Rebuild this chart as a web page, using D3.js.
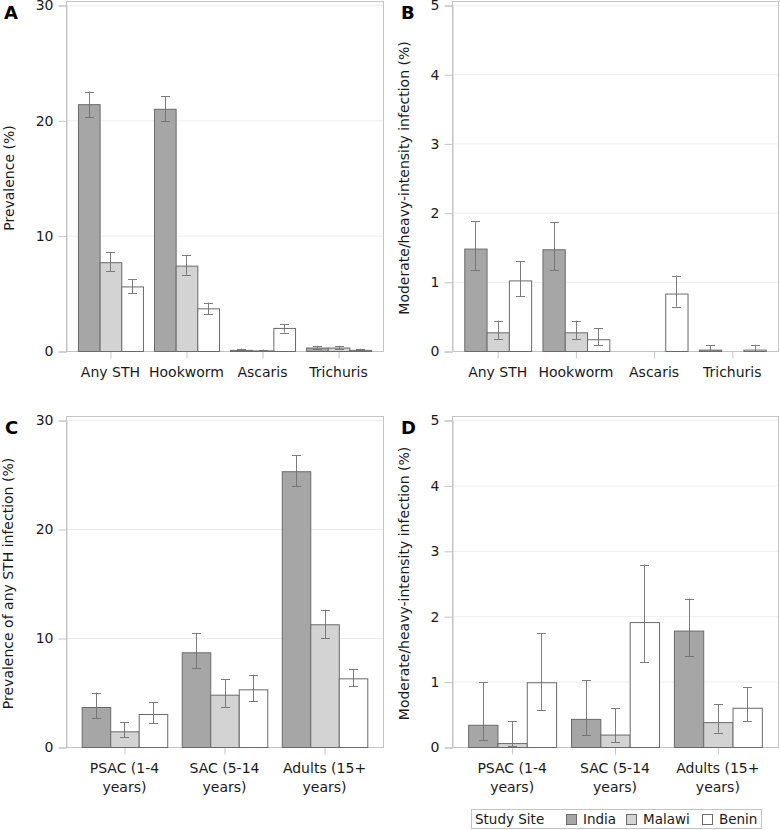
<!DOCTYPE html>
<html><head><meta charset="utf-8">
<script src="https://cdn.jsdelivr.net/npm/d3@7"></script>
<style>
body{margin:0;background:#fff;}
svg{display:block;font-family:"DejaVu Sans",sans-serif;}
</style></head>
<body>
<svg id="chart" width="780" height="830"></svg>
<script>
// ---- data ----
const sites = ["India", "Malawi", "Benin"];
const speciesCats = ["Any STH", "Hookworm", "Ascaris", "Trichuris"];
const ageCats = ["PSAC (1-4 years)", "SAC (5-14 years)", "Adults (15+ years)"];
const ageLabelLines = [["PSAC (1-4", "years)"], ["SAC (5-14", "years)"], ["Adults (15+", "years)"]];
const prevTicks = [0, 10, 20, 30];
const intTicks = [0, 1, 2, 3, 4, 5];

// [estimate, lower CI, upper CI]
const aIndia  = [[21.4, 20.3, 22.5], [21.0, 19.9, 22.1], [0.1, 0.05, 0.2], [0.3, 0.2, 0.45]];
const aMalawi = [[7.7, 6.9, 8.6], [7.4, 6.6, 8.3], [0.05, 0.0, 0.12], [0.3, 0.15, 0.45]];
const aBenin  = [[5.6, 5.0, 6.2], [3.7, 3.2, 4.2], [2.0, 1.6, 2.35], [0.1, 0.05, 0.2]];

const bIndia  = [[1.48, 1.17, 1.88], [1.47, 1.17, 1.86], [0, 0, 0], [0.02, 0, 0.08]];
const bMalawi = [[0.27, 0.17, 0.44], [0.27, 0.17, 0.44], [0, 0, 0], [0, 0, 0]];
const bBenin  = [[1.02, 0.79, 1.30], [0.17, 0.08, 0.33], [0.83, 0.64, 1.09], [0.02, 0, 0.09]];

const cIndia  = [[3.67, 2.63, 5.0], [8.69, 7.22, 10.43], [25.3, 23.9, 26.76]];
const cMalawi = [[1.44, 0.89, 2.27], [4.8, 3.64, 6.21], [11.26, 10.0, 12.6]];
const cBenin  = [[3.03, 2.2, 4.13], [5.29, 4.19, 6.64], [6.3, 5.57, 7.16]];

const dIndia  = [[0.34, 0.11, 0.99], [0.43, 0.18, 1.02], [1.78, 1.39, 2.27]];
const dMalawi = [[0.06, 0.01, 0.39], [0.19, 0.07, 0.59], [0.38, 0.22, 0.65]];
const dBenin  = [[0.99, 0.57, 1.74], [1.91, 1.30, 2.79], [0.60, 0.39, 0.91]];

// ---- styling ----
const siteFill = {India: "#a6a6a6", Malawi: "#d3d3d3", Benin: "#ffffff"};
const frameColor = "#c4c4c4";
const gridColor = "#ededed";
const barStroke = "#6a6a6a";
const errColor = "#707070";
const textColor = "#1a1a1a";
const FONT = '"DejaVu Sans",sans-serif';

const svg = d3.select("#chart");

function panel(opts) {
  const {left, right, top, bottom, cats, labelLines, ticks, maxY, series, letter, title, titleX, letterX} = opts;
  const g = svg.append("g");
  const y = d3.scaleLinear().domain([0, maxY]).range([bottom, top]);
  const x0 = d3.scaleBand().domain(cats).range([left, right]).paddingInner(0.145).paddingOuter(0.157);
  const x1 = d3.scaleBand().domain(sites).range([0, x0.bandwidth()]);

  // gridlines
  g.selectAll("line.grid").data(ticks.filter(t => t > 0)).join("line")
    .attr("x1", left).attr("x2", right)
    .attr("y1", d => y(d) + 0.5).attr("y2", d => y(d) + 0.5)
    .attr("stroke", gridColor).attr("stroke-width", 1);

  // frame
  g.append("rect").attr("x", left + 0.5).attr("y", y(maxY) - 4 + 0.5)
    .attr("width", right - left).attr("height", bottom - (y(maxY) - 4))
    .attr("fill", "none").attr("stroke", frameColor);

  // y axis
  const yAxis = d3.axisLeft(y).tickValues(ticks).tickSize(8).tickPadding(5).tickFormat(d3.format("d"));
  const ya = g.append("g").attr("transform", `translate(${left + 0.5},0.5)`).call(yAxis);
  ya.select(".domain").attr("stroke", frameColor);
  ya.selectAll(".tick line").attr("stroke", frameColor);
  ya.selectAll(".tick text").attr("fill", textColor).style("font-size", "14px")
    .style("font-family", FONT);

  // x axis
  const xAxis = d3.axisBottom(x0).tickSize(7).tickPadding(6).tickFormat("");
  const xa = g.append("g").attr("transform", `translate(0.5,${bottom + 0.5})`).call(xAxis);
  xa.select(".domain").attr("stroke", frameColor).attr("d", `M${left},0H${right}`);
  xa.selectAll(".tick line").attr("stroke", frameColor);
  cats.forEach((c, i) => {
    const lines = labelLines[i];
    const t = g.append("text").attr("x", x0(c) + x0.bandwidth() / 2)
      .attr("text-anchor", "middle").attr("fill", textColor).style("font-size", "14px");
    lines.forEach((ln, j) => {
      t.append("tspan").attr("x", x0(c) + x0.bandwidth() / 2).attr("y", bottom + 26 + j * 19).text(ln);
    });
  });

  // bars
  sites.forEach((s, si) => {
    const vals = series[si];
    const bw = x1.bandwidth();
    g.selectAll(null).data(cats.map((c, i) => ({c, v: vals[i]}))).join("rect")
      .attr("x", d => x0(d.c) + x1(s) + 0.5)
      .attr("y", d => y(d.v[0]) + 0.5)
      .attr("width", bw)
      .attr("height", d => Math.max(0, y(0) - y(d.v[0])))
      .attr("fill", siteFill[s]).attr("stroke", barStroke).attr("stroke-width", 1);
  });
  // error bars
  sites.forEach((s, si) => {
    const vals = series[si];
    const bw = x1.bandwidth();
    cats.forEach((c, i) => {
      const [v, lo, hi] = vals[i];
      if (hi - lo <= 0) return;
      const cx = Math.round(x0(c) + x1(s) + bw / 2) + 0.5;
      const eg = g.append("g").attr("stroke", errColor).attr("stroke-width", 1).attr("opacity", 0.9);
      eg.append("line").attr("x1", cx).attr("x2", cx).attr("y1", y(lo)).attr("y2", y(hi));
      eg.append("line").attr("x1", cx - 4.5).attr("x2", cx + 4.5).attr("y1", Math.round(y(lo)) + 0.5).attr("y2", Math.round(y(lo)) + 0.5);
      eg.append("line").attr("x1", cx - 4.5).attr("x2", cx + 4.5).attr("y1", Math.round(y(hi)) + 0.5).attr("y2", Math.round(y(hi)) + 0.5);
    });
  });

  // axis title
  g.append("text").attr("transform", `translate(${titleX},${(top + bottom) / 2}) rotate(-90)`)
    .attr("text-anchor", "middle").attr("dominant-baseline", "central")
    .attr("fill", textColor).style("font-size", "14px").text(title);

  // panel letter
  g.append("text").attr("x", letterX).attr("y", y(maxY) + 14)
    .attr("fill", "#000").style("font-size", "18px").style("font-weight", "bold").text(letter);
}

const speciesLines = speciesCats.map(c => [c]);

panel({left: 66, right: 383, top: 5, bottom: 351, cats: speciesCats, labelLines: speciesLines,
  ticks: prevTicks, maxY: 30, series: [aIndia, aMalawi, aBenin], letter: "A",
  title: "Prevalence (%)", titleX: 9, letterX: 4});
panel({left: 452, right: 778, top: 5, bottom: 351, cats: speciesCats, labelLines: speciesLines,
  ticks: intTicks, maxY: 5, series: [bIndia, bMalawi, bBenin], letter: "B",
  title: "Moderate/heavy-intensity infection (%)", titleX: 404, letterX: 401});
panel({left: 66, right: 383, top: 420, bottom: 747, cats: ageCats, labelLines: ageLabelLines,
  ticks: prevTicks, maxY: 30, series: [cIndia, cMalawi, cBenin], letter: "C",
  title: "Prevalence of any STH infection (%)", titleX: 8, letterX: 5});
panel({left: 452, right: 778, top: 420, bottom: 747, cats: ageCats, labelLines: ageLabelLines,
  ticks: intTicks, maxY: 5, series: [dIndia, dMalawi, dBenin], letter: "D",
  title: "Moderate/heavy-intensity infection (%)", titleX: 404, letterX: 401});

// legend
const lg = svg.append("g");
lg.append("rect").attr("x", 471.5).attr("y", 809.5).attr("width", 290).attr("height", 19)
  .attr("fill", "#fff").attr("stroke", frameColor);
lg.append("text").attr("x", 475).attr("y", 824).attr("fill", textColor).style("font-size", "13.5px").text("Study Site");
const legX = {India: 566, Malawi: 626, Benin: 702};
sites.forEach(s => {
  lg.append("rect").attr("x", legX[s] + 0.5).attr("y", 814.5).attr("width", 10).attr("height", 10)
    .attr("fill", siteFill[s]).attr("stroke", barStroke);
  lg.append("text").attr("x", legX[s] + 17).attr("y", 824).attr("fill", textColor).style("font-size", "13.5px").text(s);
});
</script>
</body></html>
